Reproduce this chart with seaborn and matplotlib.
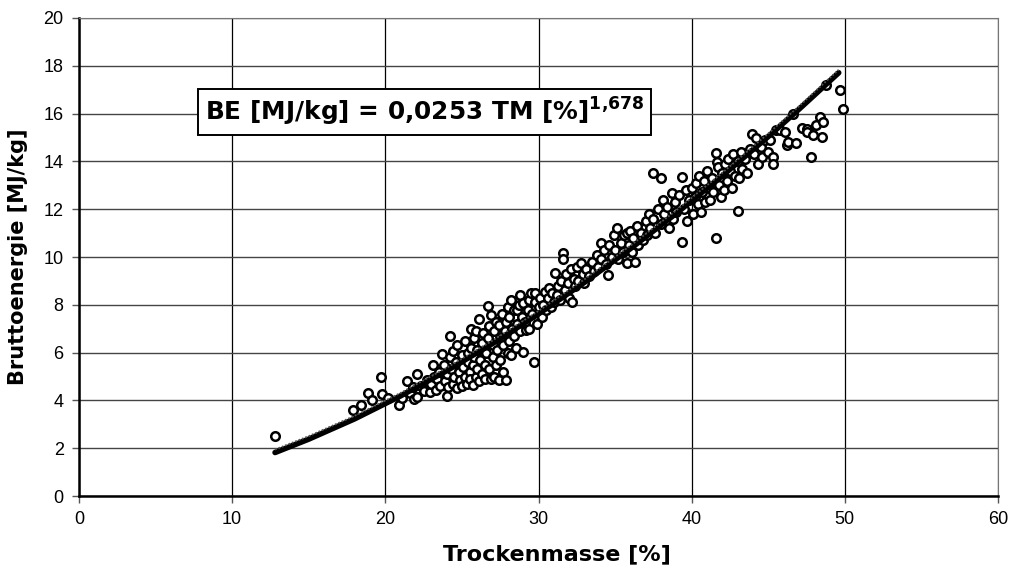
import matplotlib
matplotlib.use('Agg')
import matplotlib.pyplot as plt
from matplotlib.transforms import offset_copy
import seaborn as sns
import numpy as np
import pandas as pd

sns.set_style("white")
plt.rcParams['font.family'] = ['Liberation Sans', 'DejaVu Sans']
plt.rcParams['mathtext.fontset'] = 'dejavusans'
plt.rcParams['text.color'] = 'black'
plt.rcParams['axes.labelcolor'] = 'black'
plt.rcParams['xtick.labelcolor'] = 'black'
plt.rcParams['ytick.labelcolor'] = 'black'

# Trockenmasse [%] (grouped by x range)
tm = [12.8,
      17.9, 18.4, 18.9, 19.1, 19.7, 19.8, 20.2, 20.9, 21.1, 21.4, 21.6, 21.8, 21.9,
      22.1, 22.1, 22.3, 22.5, 22.7, 22.9, 23.0, 23.1, 23.2, 23.3, 23.4, 23.5, 23.6, 23.7, 23.8, 23.9, 24.0, 24.0, 24.1, 24.2, 24.2,
      24.3, 24.4, 24.4, 24.5, 24.6, 24.7, 24.7, 24.8, 24.9, 25.0, 25.0, 25.1, 25.2, 25.2, 25.3, 25.4, 25.4, 25.5, 25.5, 25.6, 25.6, 25.7, 25.7, 25.8, 25.8, 25.9, 25.9, 26.0, 26.0,
      26.1, 26.1, 26.2, 26.3, 26.3, 26.4, 26.5, 26.5, 26.6, 26.7, 26.7, 26.8, 26.8, 26.9, 26.9, 27.0, 27.0, 27.1, 27.1, 27.2, 27.2, 27.3, 27.4, 27.4, 27.5, 27.5, 27.6, 27.7, 27.7, 27.8, 27.9, 27.9, 28.0, 28.0,
      28.1, 28.1, 28.2, 28.2, 28.3, 28.4, 28.4, 28.5, 28.6, 28.6, 28.7, 28.8, 28.8, 28.9, 29.0, 29.0, 29.1, 29.2, 29.3, 29.4, 29.4, 29.5, 29.6, 29.7, 29.8, 29.8, 29.9, 30.0,
      30.1, 30.2, 30.3, 30.4, 30.5, 30.6, 30.7, 30.8, 30.9, 31.0, 31.1, 31.2, 31.3, 31.4, 31.5, 31.57, 31.57, 31.7, 31.8, 31.9, 32.0, 32.1, 32.2, 32.3, 32.4, 32.5, 32.6, 32.8, 32.9, 33.0,
      33.1, 33.3, 33.5, 33.6, 33.8, 33.9, 34.05, 34.1, 34.3, 34.4, 34.55, 34.6, 34.8, 34.9, 35.0, 35.1, 35.2, 35.4, 35.5, 35.6, 35.75, 35.75, 35.9, 36.0, 36.1,
      36.2, 36.3, 36.4, 36.5, 36.7, 36.8, 37.0, 37.1, 37.2, 37.3, 37.5, 37.5, 37.6, 37.8, 37.97, 38.0, 38.1, 38.2, 38.4, 38.5, 38.7, 38.8, 38.9, 39.0,
      39.2, 39.34, 39.34, 39.5, 39.6, 39.7, 39.8, 40.0, 40.1, 40.2, 40.3, 40.4, 40.5, 40.6, 40.7, 40.8, 40.9, 41.0, 41.1, 41.2, 41.3, 41.4, 41.6, 41.6, 41.67, 41.7, 41.8, 41.9,
      42.0, 42.1, 42.2, 42.3, 42.4, 42.5, 42.6, 42.7, 42.8, 43.0, 43.0, 43.1, 43.2, 43.3, 43.5, 43.6, 43.8, 43.97, 44.1, 44.2, 44.3, 44.5, 44.6, 44.8,
      45.0, 45.1, 45.3, 45.3, 45.5, 45.76, 46.1, 46.2, 46.3, 46.6, 46.8, 47.2, 47.5, 47.5, 47.8, 47.9, 48.1, 48.4, 48.5, 48.6, 48.8, 49.7, 49.85]

# Bruttoenergie [MJ/kg], same order as tm
be = [2.5,
      3.6, 3.8, 4.3, 4.0, 5.0, 4.25, 4.1, 3.8, 4.1, 4.8, 4.3, 4.55, 4.05,
      5.1, 4.15, 4.6, 4.4, 4.85, 4.35, 4.7, 5.5, 5.0, 4.45, 4.9, 5.2, 4.6, 5.95, 5.5, 4.8, 4.2, 5.1, 4.55, 6.7, 5.8,
      5.3, 6.05, 4.7, 5.0, 5.6, 4.5, 6.3, 5.2, 4.85, 5.9, 4.6, 5.4, 6.5, 5.0, 4.7, 6.0, 5.6, 5.2, 4.9, 7.0, 6.2, 5.5, 4.65, 5.8, 6.6, 5.0, 6.9, 5.3, 6.1,
      7.4, 4.8, 5.7, 6.4, 5.1, 6.8, 5.5, 4.9, 6.0, 7.96, 6.6, 5.3, 7.1, 7.57, 4.88, 5.8, 6.3, 5.0, 6.9, 7.3, 5.5, 6.1, 7.15, 4.85, 6.6, 5.7, 7.6, 6.3, 5.2, 6.9, 4.85, 7.3, 6.0, 7.9,
      7.5, 6.5, 8.2, 5.9, 7.0, 6.7, 7.8, 6.2, 7.78, 7.2, 8.0, 8.41, 6.9, 7.5, 8.06, 6.04, 7.3, 6.95, 7.8, 8.2, 7.0, 8.5, 7.6, 5.62, 8.1, 8.48, 7.2, 7.9,
      8.3, 7.5, 8.0, 8.55, 7.8, 8.3, 8.7, 7.9, 8.5, 8.1, 9.34, 8.4, 8.8, 8.2, 9.0, 10.15, 9.9, 8.6, 9.3, 8.9, 8.3, 9.5, 8.1, 9.1, 8.8, 9.6, 9.0, 9.73, 9.3, 8.9,
      9.5, 9.2, 9.8, 9.4, 10.08, 9.6, 10.6, 9.9, 10.3, 9.7, 9.25, 10.5, 10.0, 10.9, 10.3, 11.2, 9.9, 10.6, 10.2, 10.9, 11.0, 9.73, 10.5, 11.1, 10.2,
      10.8, 9.8, 11.3, 10.5, 11.0, 10.7, 11.5, 10.9, 11.8, 11.2, 13.5, 11.6, 11.0, 12.0, 13.3, 11.4, 12.38, 11.8, 12.1, 11.2, 12.69, 11.6, 12.3, 11.9,
      12.6, 13.33, 10.64, 12.0, 12.8, 11.5, 12.4, 12.9, 11.8, 12.5, 13.1, 12.2, 13.4, 11.9, 12.7, 13.2, 12.3, 13.6, 12.9, 12.4, 13.3, 12.7, 14.34, 10.78, 13.99, 13.78, 13.0, 12.5,
      13.5, 12.8, 13.9, 13.2, 14.1, 13.6, 12.9, 14.3, 13.4, 11.94, 14.0, 13.3, 14.4, 13.7, 14.1, 13.5, 14.5, 15.15, 14.3, 14.97, 13.9, 14.6, 14.2, 14.9,
      14.4, 14.9, 14.2, 13.9, 15.3, 15.3, 15.24, 14.68, 14.82, 15.97, 14.75, 15.4, 15.34, 15.24, 14.2, 15.1, 15.52, 15.85, 15.03, 15.66, 17.2, 17.0, 16.18]

# trend line
tm_fit = [12.8, 15, 18, 21, 24, 27, 30, 33, 36, 39, 42, 45, 47, 49.6]
be_fit = [1.82, 2.38, 3.23, 4.19, 5.24, 6.38, 7.62, 8.94, 10.35, 11.83, 13.40, 15.04, 16.18, 17.71]

df = pd.DataFrame({"tm": tm, "be": be})
fit = pd.DataFrame({"tm": tm_fit, "be": be_fit})

fig = plt.figure(figsize=(10.27, 5.71), dpi=100)
ax = fig.add_axes([0.0769, 0.1313, 0.8949, 0.8372])

ax.set_xlim(0, 60)
ax.set_ylim(0, 20)
ax.set_xticks(range(0, 61, 10))
ax.set_yticks(range(0, 21, 2))
ax.grid(True, axis='x', color='black', lw=0.9)
ax.grid(True, axis='y', color='#444444', lw=1.0)
ax.set_axisbelow(True)

sns.scatterplot(data=df, x="tm", y="be", ax=ax, marker='o', s=38,
                facecolor='white', edgecolor='black', linewidth=1.8, zorder=3)

# trendline: thick black with a dotted rim, like the original
sns.lineplot(data=fit, x="tm", y="be", ax=ax, color='black', lw=4.0, zorder=4)
rim = offset_copy(ax.transData, fig=fig, x=0, y=3.0, units='dots')
ax.plot(fit["tm"], fit["be"], color='#555555', lw=1.3, ls=(0, (1, 1)), transform=rim, zorder=4)

for side in ['top', 'right']:
    ax.spines[side].set_color('#777777')
    ax.spines[side].set_linewidth(0.8)
for side in ['left', 'bottom']:
    ax.spines[side].set_color('black')
    ax.spines[side].set_linewidth(1.8)

ax.tick_params(axis='both', direction='out', length=5, width=1, color='#555555',
               labelsize=13, pad=6, left=True, bottom=True)

bold = ['DejaVu Sans']
ax.set_xlabel("Trockenmasse [%]", fontsize=16, fontweight='bold', family=bold)
ax.xaxis.set_label_coords(0.52, -0.1)
ax.set_ylabel("Bruttoenergie [MJ/kg]", fontsize=15, fontweight='bold', family=bold, labelpad=11)

ax.text(8.2, 16.07, r"BE [MJ/kg] = 0,0253 TM [%]$^{\mathbf{1{,}678}}$",
        fontsize=17.8, fontweight='bold', family=bold, va='center', ha='left', zorder=6,
        bbox=dict(boxstyle='square,pad=0.27', facecolor='white', edgecolor='black', lw=1.4))

fig.savefig("out.png", dpi=100)
